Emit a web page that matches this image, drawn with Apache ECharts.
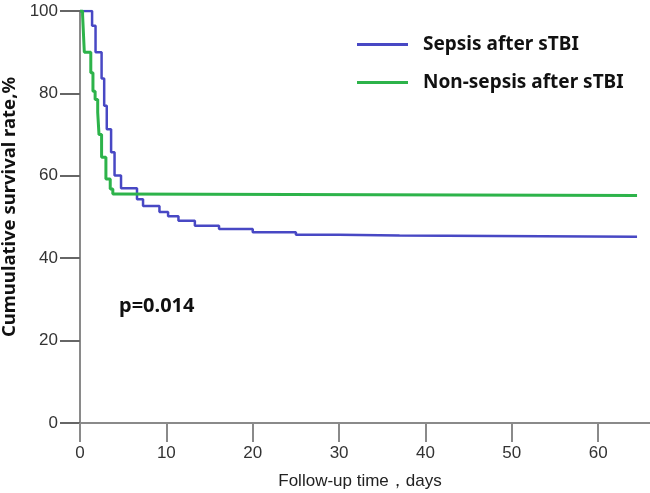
<!DOCTYPE html>
<html>
<head>
<meta charset="utf-8">
<script src="https://cdn.jsdelivr.net/npm/echarts@6/dist/echarts.min.js"></script>
<style>
  html, body { margin: 0; padding: 0; background: #fff; }
  #chart { width: 650px; height: 493px; }
</style>
</head>
<body>
<div id="chart"></div>
<script>
// Kaplan-Meier steps: [day, survival %]
const sepsis = [
  [0, 100], [1.4, 96.4], [1.8, 90], [2.5, 83.6], [2.8, 77], [3.1, 71.3],
  [3.6, 65.7], [4.0, 60.1], [4.75, 57], [6.6, 54.3], [7.3, 52.7], [9.2, 51.2],
  [10.2, 50.2], [11.4, 49.1], [13.3, 47.9], [16.1, 47.1], [20, 46.3],
  [25, 45.7], [30, 45.5], [37, 45.2], [64.5, 45.2]
]
const nonSepsis = [
  [0, 100], [0.3, 99], [0.5, 90], [1.25, 85], [1.5, 80.5], [1.75, 78.5],
  [2.05, 75.4], [2.2, 70], [2.5, 64.5], [3.0, 59.2], [3.5, 56.8], [3.8, 55.6],
  [4.2, 55.2], [64.5, 55.2]
]
const xTicks = [0, 10, 20, 30, 40, 50, 60]
const seriesNames = ['Sepsis after sTBI', 'Non-sepsis after sTBI']
const pValue = 'p=0.014'

const chart = echarts.init(document.getElementById('chart'), null, { renderer: 'canvas' })

const axisGray = '#8a8a8a'

const option = {
  animation: false,
  grid: { left: 80, right: 0, top: 11, bottom: 70, outerBoundsMode: 'none' },
  legend: {
    orient: 'vertical',
    left: 352,
    top: 30,
    itemWidth: 51,
    itemHeight: 3,
    itemGap: 19,
    icon: 'rect',
    data: seriesNames,
    textStyle: {
      fontFamily: 'Noto Sans',
      fontWeight: 'bold',
      fontSize: 19,
      color: '#111',
      padding: [0, 0, 0, 10]
    }
  },
  xAxis: {
    type: 'value',
    min: 0,
    max: 66,
    name: 'Follow-up time，days',
    nameLocation: 'middle',
    nameGap: 50,
    nameTextStyle: { fontFamily: 'Liberation Sans', fontSize: 17, color: '#222', padding: [0, 10, 0, 0] },
    splitLine: { show: false },
    axisLine: { lineStyle: { color: axisGray, width: 2 } },
    axisTick: { customValues: xTicks, length: 19, lineStyle: { color: axisGray, width: 2 } },
    axisLabel: {
      customValues: xTicks,
      fontFamily: 'Liberation Sans',
      fontSize: 17,
      color: '#333',
      margin: 22
    }
  },
  yAxis: {
    type: 'value',
    min: 0,
    max: 100,
    interval: 20,
    name: 'Cumuulative survival rate,%',
    nameLocation: 'middle',
    nameGap: 52,
    nameTextStyle: {
      fontFamily: 'Noto Sans',
      fontWeight: 'bold',
      fontSize: 18.5,
      color: '#111',
      padding: [0, 0, 0, 20]
    },
    splitLine: { show: false },
    axisLine: { show: true, lineStyle: { color: axisGray, width: 2 } },
    axisTick: { show: true, length: 20, lineStyle: { color: '#666', width: 2 } },
    axisLabel: {
      fontFamily: 'Liberation Sans',
      fontSize: 17,
      color: '#333',
      margin: 22
    }
  },
  graphic: [{
    type: 'text',
    left: 119,
    top: 296,
    style: {
      text: pValue,
      font: 'bold 20px "Noto Sans"',
      fill: '#111'
    }
  }],
  series: [
    {
      name: seriesNames[0],
      type: 'line',
      step: 'end',
      data: sepsis,
      showSymbol: false,
      color: '#4848c4',
      lineStyle: { color: '#4848c4', width: 2.5 }
    },
    {
      name: seriesNames[1],
      type: 'line',
      step: 'end',
      data: nonSepsis,
      showSymbol: false,
      color: '#2db34a',
      lineStyle: { color: '#2db34a', width: 3 }
    }
  ]
}

chart.setOption(option)
</script>
</body>
</html>
